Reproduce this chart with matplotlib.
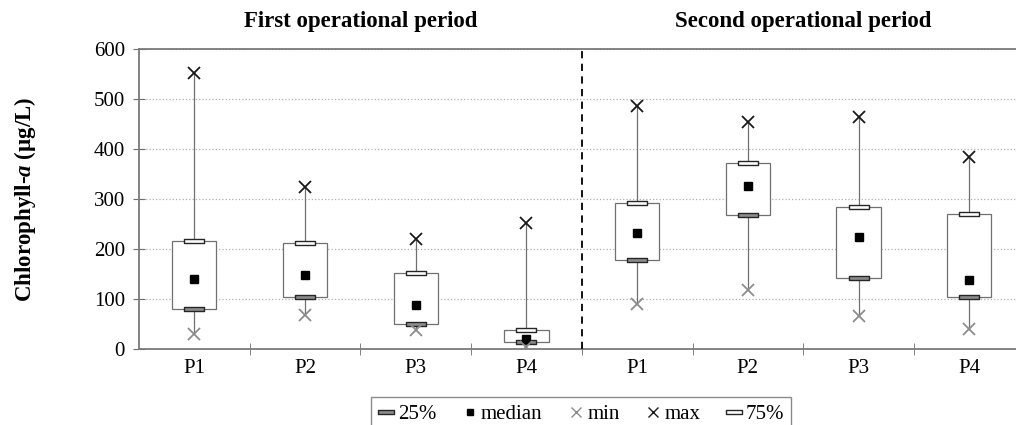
import matplotlib
matplotlib.use('Agg')
import matplotlib.pyplot as plt
from matplotlib.lines import Line2D
from matplotlib.path import Path
import numpy as np

plt.rcParams['font.family'] = ['Liberation Serif', 'DejaVu Serif']
plt.rcParams['mathtext.fontset'] = 'custom'
plt.rcParams['mathtext.rm'] = 'Liberation Serif:bold'
plt.rcParams['mathtext.bfit'] = 'Liberation Serif:italic:bold'
plt.rcParams['mathtext.it'] = 'Liberation Serif:italic:bold'

# data (ug/L), first period P1-P4 then second period P1-P4
labels = ['P1', 'P2', 'P3', 'P4', 'P1', 'P2', 'P3', 'P4']
q25 = [81, 104, 51, 15, 178, 268, 143, 105]
median = [141, 149, 89, 21, 232, 326, 224, 139]
vmin = [30, 68, 38, 5, 91, 119, 66, 41]
vmax = [553, 325, 221, 253, 487, 454, 465, 385]
q75 = [217, 213, 153, 39, 293, 373, 285, 270]
periods = ['First operational period', 'Second operational period']

x = np.arange(len(labels))
rect = Path([(-1, -0.24), (1, -0.24), (1, 0.24), (-1, 0.24), (-1, -0.24)],
            [Path.MOVETO, Path.LINETO, Path.LINETO, Path.LINETO, Path.CLOSEPOLY])

fig = plt.figure(figsize=(10.16, 4.25), dpi=100)
ax = fig.add_axes([139 / 1016, 76 / 425, 885.6 / 1016, 300 / 425])

box_h = np.array(q75) - np.array(q25)
ax.bar(x, box_h, bottom=q25, width=0.4, color='white', edgecolor='#707070',
       linewidth=0.9, zorder=2)
ax.vlines(x, vmin, q25, color='#707070', linewidth=0.9, zorder=1)
ax.vlines(x, q75, vmax, color='#707070', linewidth=0.9, zorder=1)

ax.plot(x, q25, ls='none', marker=rect, ms=14.5, mfc='#8c8c8c', mec='#262626', mew=1.0, zorder=3)
ax.plot(x, median, ls='none', marker='s', ms=5.8, mfc='black', mec='black', zorder=3)
ax.plot(x, vmin, ls='none', marker='x', ms=9, mec='#8c8c8c', mew=1.3, zorder=3)
ax.plot(x, vmax, ls='none', marker='x', ms=9, mec='#1a1a1a', mew=1.3, zorder=3)
ax.plot(x, q75, ls='none', marker=rect, ms=14.5, mfc='white', mec='#262626', mew=1.0, zorder=3)

ax.axvline(3.5, color='black', linestyle=(0, (4, 3)), linewidth=1.3, zorder=4)

ax.set_xlim(-0.5, 7.5)
ax.set_ylim(0, 600)
ax.set_yticks(range(0, 601, 100))
ax.set_xticks(x)
ax.set_xticklabels(labels)
ax.set_xticks(np.arange(0.5, 7.5, 1), minor=True)
ax.tick_params(axis='x', which='major', length=0, pad=7, labelsize=15)
ax.tick_params(axis='x', which='minor', direction='inout', length=9, color='#6e6e6e')
ax.tick_params(axis='y', direction='inout', length=8, color='#6e6e6e', labelsize=15, pad=6)
ax.yaxis.grid(True, linestyle=':', color='#b0b0b0', linewidth=0.9)
ax.set_axisbelow(True)
for s in ['left', 'bottom', 'top']:
    ax.spines[s].set_color('#7a7a7a')
    ax.spines[s].set_linewidth(1.3)
ax.spines['right'].set_visible(False)

ax.set_ylabel(r'Chlorophyll-$\mathbfit{a}$ (μg/L)', fontsize=16.5, fontweight='bold', labelpad=40)

ax.text(1.5, 654, periods[0], ha='center', va='center', fontsize=16.5, fontweight='bold')
ax.text(5.5, 654, periods[1], ha='center', va='center', fontsize=16.5, fontweight='bold')

handles = [
    Line2D([], [], ls='none', marker=rect, ms=11, mfc='#8c8c8c', mec='#262626', mew=1.0),
    Line2D([], [], ls='none', marker='s', ms=5, mfc='black', mec='black'),
    Line2D([], [], ls='none', marker='x', ms=7.5, mec='#8c8c8c', mew=1.0),
    Line2D([], [], ls='none', marker='x', ms=7.5, mec='#1a1a1a', mew=1.0),
    Line2D([], [], ls='none', marker=rect, ms=11, mfc='white', mec='#262626', mew=1.0),
]
leg = fig.legend(handles, ['25%', 'median', 'min', 'max', '75%'], loc='lower center',
                 bbox_to_anchor=(581 / 1016, -0.04), ncol=5, fontsize=15, frameon=True,
                 fancybox=False, edgecolor='#6e6e6e', handlelength=0.8, handletextpad=0.15,
                 columnspacing=1.2, borderpad=0.35)
leg.get_frame().set_linewidth(1.0)

fig.savefig('out.png', dpi=100)
